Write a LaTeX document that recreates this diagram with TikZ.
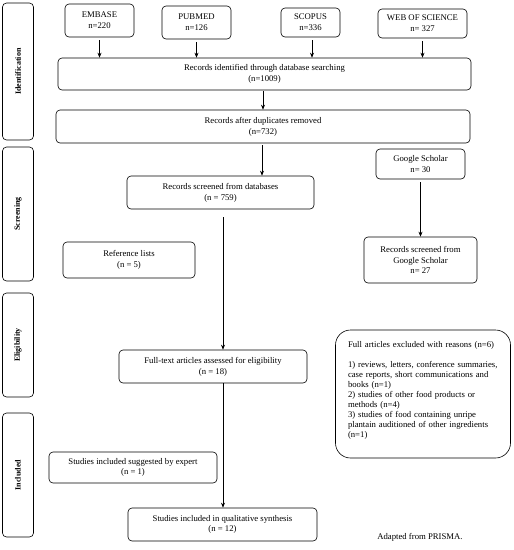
\documentclass[tikz,border=0pt]{standalone}
\usepackage{fontspec}
\setmainfont{Liberation Serif}
\usetikzlibrary{arrows.meta}
\begin{document}
\begin{tikzpicture}[x=1pt,y=-1pt,
  box/.style={draw, rounded corners=4pt, line width=0.6pt, align=center, inner sep=1pt,
    font=\fontsize{8.7}{10.8}\selectfont},
  side/.style={draw, rounded corners=4pt, line width=0.6pt, inner sep=0pt},
  sidelabel/.style={rotate=90, font=\fontsize{8}{9}\selectfont\bfseries},
  arr/.style={-{Stealth[length=5pt,width=4pt]}, line width=0.6pt},
  ln/.style={line width=0.6pt}]
\useasboundingbox (0,0) rectangle (514,550);
\fill[white] (0,0) rectangle (514,550);
% side boxes
\node[side, minimum width=31pt, minimum height=137pt] (sid) at (18,71.5) {};
\node[sidelabel] (lid) at (sid.center) {Identification};
\node[side, minimum width=31pt, minimum height=134pt] (sscr) at (18,214) {};
\node[sidelabel] (lscr) at (sscr.center) {Screening};
\node[side, minimum width=31pt, minimum height=104pt] (sel) at (18,345) {};
\node[sidelabel] (lel) at (sel.center) {Eligibility};
\node[side, minimum width=31pt, minimum height=124pt] (sinc) at (18,475) {};
\node[sidelabel] (linc) at (sinc.center) {Included};
% databases
\node[box, minimum width=69pt, minimum height=33pt] (embase) at (99.5,20.5) {EMBASE\\n=220};
\node[box, minimum width=69pt, minimum height=33pt] (pubmed) at (196.5,22.5) {PUBMED\\n=126};
\node[box, minimum width=59pt, minimum height=29pt] (scopus) at (310.5,22.5) {SCOPUS\\n=336};
\node[box, minimum width=89pt, minimum height=29pt] (wos) at (422.5,23.5) {WEB OF SCIENCE\\n= 327};
\node[box, minimum width=413pt, minimum height=32pt] (rid) at (264.5,74) {Records identified through database searching\\(n=1009)};
\node[box, minimum width=414pt, minimum height=33pt] (rad) at (263,126.5) {Records after duplicates removed\\(n=732)};
\node[box, minimum width=187pt, minimum height=33pt] (rsd) at (220.5,192.5) {Records screened from databases\\(n = 759)};
\node[box, minimum width=89pt, minimum height=30pt] (gs) at (420.5,164) {Google Scholar\\n= 30};
\node[box, minimum width=113pt, minimum height=46pt] (rsgs) at (420.5,260) {Records screened from\\Google Scholar\\n= 27};
\node[box, minimum width=132pt, minimum height=36pt] (refl) at (129,260) {Reference lists\\(n = 5)};
\node[box, minimum width=188pt, minimum height=33pt] (ft) at (213,366.5) {Full-text articles assessed for eligibility\\(n = 18)};
\node[box, minimum width=168pt, minimum height=31pt] (expert) at (133,467.5) {Studies included suggested by expert\\(n = 1)};
\node[box, minimum width=189pt, minimum height=33pt] (sq) at (222.5,524.5) {Studies included in qualitative synthesis\\(n = 12)};
\node[draw, rounded corners=15pt, line width=0.6pt, minimum width=175pt, minimum height=128pt,
  text width=150pt, align=left, inner sep=2pt, font=\fontsize{8.7}{10}\selectfont] (excl) at (423,394)
  {Full articles excluded with reasons (n=6)\\[10pt]
   1) reviews, letters, conference summaries,\\case reports, short communications and\\books (n=1)\\
   2) studies of other food products or\\methods (n=4)\\
   3) studies of food containing unripe\\plantain auditioned of other ingredients\\(n=1)\\\mbox{}};
\node[font=\fontsize{8.7}{10}\selectfont] (adapt) at (420,537) {Adapted from PRISMA.};
% connectors
\draw[arr, shorten <=3pt] (embase.south) -- (embase.south |- rid.north);
\draw[arr, shorten <=3pt] (pubmed.south) -- (pubmed.south |- rid.north);
\draw[arr, shorten <=3pt] ([xshift=1.5pt]scopus.south) -- ([xshift=1.5pt]scopus.south |- rid.north);
\draw[arr, shorten <=3pt] (wos.south) -- (wos.south |- rid.north);
\draw[arr, shorten <=1pt] ([xshift=-1.5pt]rid.south) -- ([xshift=-1.5pt]rid.south |- rad.north);
\coordinate (c1) at (262,0);
\draw[arr, shorten <=2pt] (c1 |- rad.south) -- (c1 |- rsd.north);
\draw[arr, shorten <=3pt] (gs.south) -- (rsgs.north);
\coordinate (c2) at (223,0);
\draw[arr, shorten <=8pt] (c2 |- rsd.south) -- (c2 |- ft.north);
\draw[arr] (c2 |- ft.south) -- (c2 |- sq.north);
\end{tikzpicture}
\end{document}
